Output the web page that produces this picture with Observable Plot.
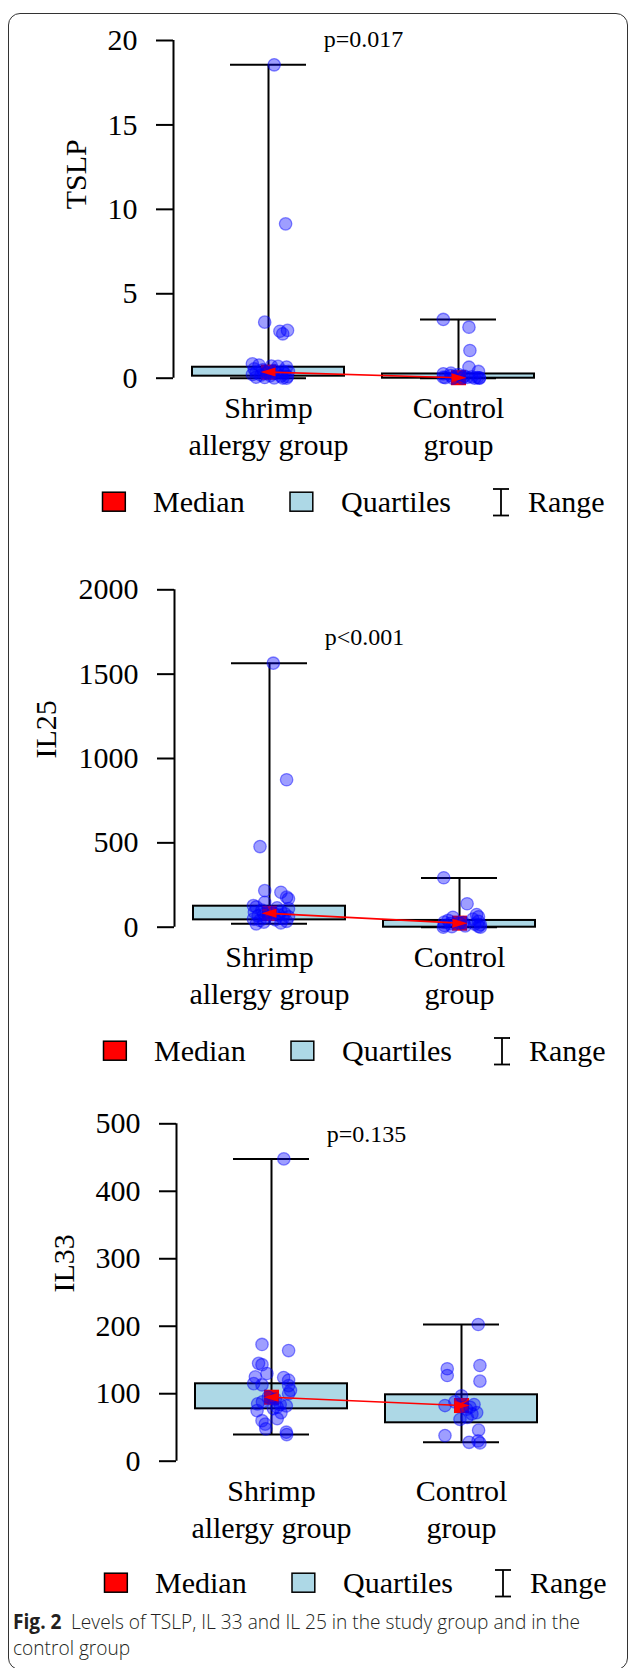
<!DOCTYPE html>
<html>
<head>
<meta charset="utf-8">
<script src="https://cdn.jsdelivr.net/npm/d3@7"></script>
<script src="https://cdn.jsdelivr.net/npm/@observablehq/plot@0.6"></script>
<style>
html, body { margin: 0; padding: 0; background: #fff; width: 630px; height: 1668px; overflow: hidden; }
#page { position: relative; width: 630px; height: 1668px; }
#card { position: absolute; left: 8px; top: 13px; width: 620px; height: 1657px; border: 1.4px solid #333; border-radius: 12px; box-sizing: border-box; }
.abs { position: absolute; left: 0; }
</style>
</head>
<body>
<div id="page"><div id="card"></div></div>
<script>
// ---------- data ----------
const groups = ["Shrimp\nallergy group", "Control\ngroup"];
const groupPos = [1, 2];
const legendLabels = ["Median", "Quartiles", "Range"];

// TSLP
const tslpTicks = [0, 5, 10, 15, 20];
const tslpMin = [0, 0];
const tslpQ1 = [0.12, 0];
const tslpMedian = [0.36, 0.03];
const tslpQ3 = [0.65, 0.25];
const tslpMax = [18.56, 3.48];
const tslpShrimp = [18.56, 9.14, 3.32, 2.83, 2.78, 2.63, 0.85, 0.78, 0.72, 0.70, 0.66, 0.55, 0.50, 0.45, 0.42, 0.40, 0.35, 0.33, 0.30, 0.28, 0.22, 0.18, 0.15, 0.12, 0.10, 0.06, 0.04, 0.02, 0.01, 0.00];
const tslpShrimpJitter = [0.03, 0.09, -0.02, 0.10, 0.06, 0.075, -0.085, -0.05, 0.015, 0.05, 0.095, -0.075, -0.03, 0.03, 0.075, 0.105, -0.065, -0.01, 0.04, 0.085, -0.085, -0.04, 0.01, 0.065, 0.1, -0.065, -0.02, 0.03, 0.075, 0.095];
const tslpControl = [3.48, 3.02, 1.64, 0.65, 0.40, 0.30, 0.26, 0.22, 0.16, 0.12, 0.08, 0.06, 0.05, 0.04, 0.03, 0.02, 0.01, 0.00, 0.00, 0.00];
const tslpControlJitter = [-0.08, 0.055, 0.06, 0.055, 0.105, -0.04, -0.08, 0.0, -0.04, 0.03, 0.07, -0.08, 0.045, 0.1, -0.07, 0.11, 0.02, -0.03, 0.085, 0.11];

// IL25
const il25Ticks = [0, 500, 1000, 1500, 2000];
const il25Min = [20, 0];
const il25Q1 = [43.5, 0];
const il25Median = [82, 24];
const il25Q3 = [124.5, 40];
const il25Max = [1565, 292];
const il25Shrimp = [1565, 874, 478, 217, 207, 178, 168, 148, 128, 120, 115, 110, 102, 95, 90, 85, 80, 78, 72, 68, 62, 58, 52, 48, 44, 40, 35, 30, 25, 20];
const il25ShrimpJitter = [0.02, 0.09, -0.05, -0.025, 0.06, 0.09, 0.1, -0.025, -0.085, -0.07, 0.04, 0.1, -0.04, 0.06, -0.08, 0.02, 0.08, -0.03, 0.05, -0.06, 0.1, -0.02, 0.07, -0.085, 0.03, -0.05, 0.09, -0.03, 0.06, -0.07];
const il25Control = [293, 139, 75, 62, 59, 48, 40, 35, 30, 28, 25, 22, 18, 15, 10, 8, 5, 3, 0, 0];
const il25ControlJitter = [-0.083, 0.04, 0.09, 0.1, -0.035, 0.07, -0.06, 0.1, -0.08, 0.02, 0.0, -0.05, 0.08, 0.11, -0.08, 0.03, 0.1, -0.04, -0.085, 0.11];

// IL33
const il33Ticks = [0, 100, 200, 300, 400, 500];
const il33Min = [39.5, 28.2];
const il33Q1 = [77.6, 56.9];
const il33Median = [94.8, 82.5];
const il33Q3 = [114.7, 98.4];
const il33Max = [448, 202.6];
const il33Shrimp = [448, 173, 164, 145, 143, 130, 125, 124, 120, 115, 113, 112, 105, 100, 95, 92, 88, 85, 84, 82, 80, 78, 75, 72, 63, 60, 55, 48, 43, 39.5];
const il33ShrimpJitter = [0.065, -0.05, 0.09, -0.068, -0.05, -0.024, -0.085, 0.064, 0.09, -0.094, -0.05, 0.09, 0.1, 0.09, -0.017, 0.02, -0.048, -0.073, 0.046, 0.078, 0.03, 0.01, -0.076, 0.05, 0.03, -0.05, -0.033, -0.03, 0.078, 0.08];
const il33Control = [202.6, 141.8, 137, 127, 118.6, 97, 88, 84, 82.5, 80, 77, 72, 70, 65, 62, 46, 38, 30, 28, 27];
const il33ControlJitter = [0.088, 0.097, -0.075, -0.075, 0.097, 0.0, -0.035, 0.066, -0.087, 0.045, 0.027, 0.08, 0.055, 0.03, -0.008, 0.09, -0.087, 0.087, 0.04, 0.097];

const pLabels = ["p=0.017", "p<0.001", "p=0.135"];
const pValuesY = [20.05, 1720, 485];
const yLabels = ["TSLP", "IL25", "IL33"];

// ---------- layout ----------
const SERIF = '"Liberation Serif", "Times New Roman", serif';
const page = document.getElementById("page");

const arrowHead = {
  draw(ctx) {
    ctx.moveTo(8, 0);
    ctx.lineTo(-7, -4.5);
    ctx.lineTo(-7, 4.5);
    ctx.closePath();
  }
};

function makePanel(cfg) {
  const stats = groups.map((g, i) => ({
    group: g, pos: groupPos[i],
    min: cfg.min[i], q1: cfg.q1[i], median: cfg.median[i], q3: cfg.q3[i], max: cfg.max[i]
  }));
  const pts = [
    ...cfg.shrimp.map((v, i) => ({pos: groupPos[0], jitter: cfg.shrimpJ[i], v})),
    ...cfg.control.map((v, i) => ({pos: groupPos[1], jitter: cfg.controlJ[i], v}))
  ];
  const y0 = cfg.ticks[0], yTop = cfg.ticks[cfg.ticks.length - 1];
  const chart = Plot.plot({
    width: 630,
    height: cfg.height,
    marginLeft: cfg.ml,
    marginRight: 630 - cfg.ml - 380,
    marginTop: cfg.mt,
    marginBottom: cfg.mb,
    x: {domain: [0.5, 2.5], axis: null},
    y: {domain: [y0, yTop], axis: null},
    style: {fontFamily: SERIF, fontSize: "30px", color: "black", background: "transparent", overflow: "visible"},
    marks: [
      Plot.axisY(cfg.ticks, {anchor: "left", tickSize: 17, tickPadding: 19, strokeWidth: 2, fontSize: 30,
        fontFamily: SERIF, fontVariant: "normal", tickFormat: d => String(d), label: null}),
      Plot.ruleX([0.5], {y1: y0, y2: yTop, strokeWidth: 2}),
      Plot.text([cfg.label], {frameAnchor: "left", rotate: -90, dx: cfg.labelDx, fontSize: 30, fontFamily: SERIF}),
      Plot.text(stats, {x: "pos", y: () => y0, text: "group", lineAnchor: "top", dy: 14, lineHeight: 1.233, fontSize: 30, fontFamily: SERIF}),
      Plot.text([cfg.p], {x: () => 1.5, y: () => cfg.pY, fontSize: 24, fontFamily: SERIF}),
      Plot.rect(stats, {x1: d => d.pos - 0.4, x2: d => d.pos + 0.4, y1: "q1", y2: "q3", fill: "#ADD8E6", stroke: "black", strokeWidth: 2}),
      Plot.ruleX(stats, {x: "pos", y1: "min", y2: "max", strokeWidth: 2}),
      Plot.ruleY(stats, {y: "max", x1: d => d.pos - 0.2, x2: d => d.pos + 0.2, strokeWidth: 2}),
      Plot.ruleY(stats, {y: "min", x1: d => d.pos - 0.2, x2: d => d.pos + 0.2, strokeWidth: 2}),
      Plot.dot(stats, {x: "pos", y: "median", symbol: "square", r: 8.5, fill: "red", stroke: "none"}),
      Plot.dot(pts, {x: d => d.pos + d.jitter, y: "v", r: 6.2, fill: "blue", fillOpacity: 0.38, stroke: "blue", strokeOpacity: 0.45, strokeWidth: 1.3}),
      Plot.line(stats, {x: "pos", y: "median", stroke: "red", strokeWidth: 1.6}),
      Plot.dot(stats, {x: "pos", y: "median", symbol: arrowHead, fill: "red", stroke: "none", rotate: (d, i) => (i === 0 ? 180 : 0)})
    ]
  });
  const wrap = document.createElement("div");
  wrap.className = "abs";
  wrap.style.top = cfg.top + "px";
  wrap.appendChild(chart);
  page.appendChild(wrap);
}

function makeLegend(cy, shift) {
  const svg = d3.select(page).append("svg")
    .attr("class", "abs").attr("width", 630).attr("height", 40)
    .style("top", (cy - 20) + "px").style("overflow", "visible");
  const t = svg.append("g").attr("transform", `translate(${shift},20)`);
  t.append("rect").attr("x", 102.5).attr("y", -9.8).attr("width", 22.8).attr("height", 19)
    .attr("fill", "red").attr("stroke", "black").attr("stroke-width", 1.5);
  t.append("rect").attr("x", 290).attr("y", -9.8).attr("width", 22.8).attr("height", 19)
    .attr("fill", "#ADD8E6").attr("stroke", "black").attr("stroke-width", 1.5);
  const gl = t.append("g").attr("stroke", "black").attr("stroke-width", 1.8);
  gl.append("line").attr("x1", 501).attr("x2", 501).attr("y1", -13).attr("y2", 13.5);
  gl.append("line").attr("x1", 493).attr("x2", 509).attr("y1", -13).attr("y2", -13);
  gl.append("line").attr("x1", 493).attr("x2", 509).attr("y1", 13.5).attr("y2", 13.5);
  const xs = [153, 341, 528];
  legendLabels.forEach((s, i) => {
    t.append("text").attr("x", xs[i]).attr("y", 10.2)
      .style("font-family", SERIF).style("font-size", "30px").attr("fill", "black").text(s);
  });
}

const panels = [
  {label: yLabels[0], ticks: tslpTicks, min: tslpMin, q1: tslpQ1, median: tslpMedian, q3: tslpQ3, max: tslpMax,
   shrimp: tslpShrimp, shrimpJ: tslpShrimpJitter, control: tslpControl, controlJ: tslpControlJitter,
   p: pLabels[0], pY: pValuesY[0], top: 0, height: 470, mt: 40, mb: 92.3, ml: 173, labelDx: -97, legendCy: 501.5, legendShift: 0},
  {label: yLabels[1], ticks: il25Ticks, min: il25Min, q1: il25Q1, median: il25Median, q3: il25Q3, max: il25Max,
   shrimp: il25Shrimp, shrimpJ: il25ShrimpJitter, control: il25Control, controlJ: il25ControlJitter,
   p: pLabels[1], pY: pValuesY[1], top: 550, height: 470, mt: 39.3, mb: 93.3, ml: 174, labelDx: -128, legendCy: 1050.5, legendShift: 1},
  {label: yLabels[2], ticks: il33Ticks, min: il33Min, q1: il33Q1, median: il33Median, q3: il33Q3, max: il33Max,
   shrimp: il33Shrimp, shrimpJ: il33ShrimpJitter, control: il33Control, controlJ: il33ControlJitter,
   p: pLabels[2], pY: pValuesY[2], top: 1085, height: 470, mt: 38.3, mb: 94.3, ml: 176, labelDx: -112, legendCy: 1583, legendShift: 2}
];
panels.forEach(cfg => { makePanel(cfg); makeLegend(cfg.legendCy, cfg.legendShift); });

// ---------- caption ----------
const cap = d3.select(page).append("svg")
  .attr("class", "abs").attr("width", 630).attr("height", 68)
  .style("top", "1600px").style("overflow", "visible");
const capFont = '"Open Sans", "Noto Sans", sans-serif';
const line1 = cap.append("text").attr("x", 13).attr("y", 29)
  .style("font-family", capFont).style("font-size", "20.5px").style("font-weight", "300").attr("fill", "#231f20");
line1.append("tspan").style("font-weight", "700").text("Fig. 2");
line1.append("tspan").text("\u2002Levels of TSLP, IL 33 and IL 25 in the study group and in the");
const line2 = cap.append("text").attr("x", 13).attr("y", 55)
  .style("font-family", capFont).style("font-size", "20.5px").style("font-weight", "300").attr("fill", "#231f20")
  .text("control group");
const l1 = line1.node().getComputedTextLength();
const l2 = line2.node().getComputedTextLength();
const k = 567 / l1;
line1.attr("textLength", 567).attr("lengthAdjust", "spacingAndGlyphs");
line2.attr("textLength", l2 * k).attr("lengthAdjust", "spacingAndGlyphs");
</script>
</body>
</html>
